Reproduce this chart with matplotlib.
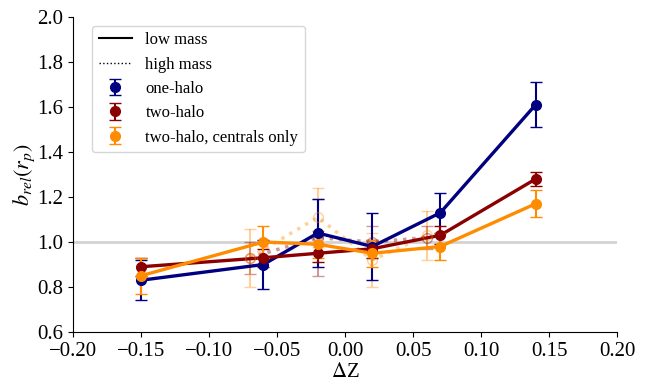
import matplotlib
matplotlib.use('Agg')
import matplotlib.pyplot as plt
from matplotlib.lines import Line2D

plt.rcParams['font.family'] = ['Liberation Serif', 'DejaVu Serif']
plt.rcParams['mathtext.fontset'] = 'stix'

# low mass
dz_low = [-0.15, -0.06, -0.02, 0.02, 0.07, 0.14]
one_halo = [0.83, 0.90, 1.04, 0.98, 1.13, 1.61]
one_halo_err = [0.09, 0.11, 0.15, 0.15, 0.09, 0.10]
two_halo = [0.89, 0.93, 0.95, 0.97, 1.03, 1.28]
two_halo_err = [0.04, 0.04, 0.04, 0.04, 0.04, 0.03]
two_halo_cen = [0.85, 1.00, 0.99, 0.95, 0.98, 1.17]
two_halo_cen_err = [0.08, 0.07, 0.06, 0.06, 0.06, 0.06]

# high mass
dz_high = [-0.07, -0.02, 0.02, 0.06]
two_halo_hi = [0.93, 1.02, 1.00, 1.02]
two_halo_hi_err = [0.07, 0.17, 0.07, 0.05]
two_halo_cen_hi = [0.93, 1.11, 0.92, 1.03]
two_halo_cen_hi_err = [0.13, 0.13, 0.12, 0.11]

xticks = [-0.2, -0.15, -0.1, -0.05, 0.0, 0.05, 0.1, 0.15, 0.2]
yticks = [0.6, 0.8, 1.0, 1.2, 1.4, 1.6, 1.8, 2.0]

colors = ['navy', 'darkred', 'darkorange']
labels = ['one-halo', 'two-halo', 'two-halo, centrals only']

fig = plt.figure(figsize=(6.51, 3.82), dpi=100)
ax = fig.add_axes([0.112, 0.131, 0.836, 0.824])

ax.axhline(1.0, color='lightgray', linewidth=2, zorder=0)

# high mass, faint dotted
for y, e, c in [(two_halo_hi, two_halo_hi_err, colors[1]),
                (two_halo_cen_hi, two_halo_cen_hi_err, colors[2])]:
    ax.plot(dz_high, y, ':', color=c, linewidth=2.5, alpha=0.4)
    ax.errorbar(dz_high, y, yerr=e, fmt='o', color=c, mfc='none', ms=7,
                capsize=4, elinewidth=1.5, alpha=0.4)

# low mass
for y, e, c, lab in [(one_halo, one_halo_err, colors[0], labels[0]),
                     (two_halo, two_halo_err, colors[1], labels[1]),
                     (two_halo_cen, two_halo_cen_err, colors[2], labels[2])]:
    ax.plot(dz_low, y, '-', color=c, linewidth=2.4)
    ax.errorbar(dz_low, y, yerr=e, fmt='o', color=c, ms=7, capsize=4,
                elinewidth=1.5, label=lab)

ax.set_xlim(-0.2, 0.2)
ax.set_ylim(0.6, 2.0)
ax.set_xticks(xticks)
ax.set_xticklabels([('%.2f' % t).replace('-', '\u2212') for t in xticks])
ax.set_yticks(yticks)
ax.set_yticklabels(['%.1f' % t for t in yticks])
ax.tick_params(labelsize=15)
ax.spines['top'].set_visible(False)
ax.spines['right'].set_visible(False)
ax.set_xlabel(r'$\Delta$Z', fontsize=15, labelpad=2)
ax.set_ylabel(r'$b_{rel}(r_p)$', fontsize=16, labelpad=0)

h, l = ax.get_legend_handles_labels()
extra = [Line2D([], [], color='black', linestyle='-', linewidth=1.5),
         Line2D([], [], color='black', linestyle=':', linewidth=1)]
ax.legend(extra + h, ['low mass', 'high mass'] + l, loc='upper left',
          fontsize=12, bbox_to_anchor=(0.02, 1.0))

fig.savefig('out.png', dpi=100)
